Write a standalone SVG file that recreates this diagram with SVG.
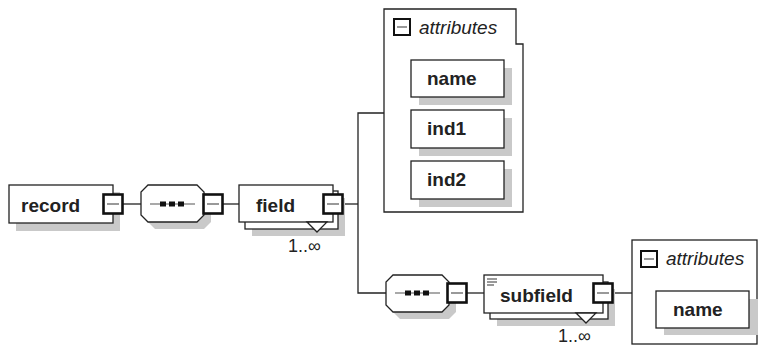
<svg xmlns="http://www.w3.org/2000/svg" width="758" height="347" viewBox="0 0 758 347">
<style>
.bg{fill:#ffffff}
.box{fill:#ffffff;stroke:#222222;stroke-width:1.3}
.shadow{fill:#c9c9c9;stroke:none}
.btn{fill:#ffffff;stroke:#111111;stroke-width:2.6}
.btnl{stroke:#555555;stroke-width:1.2}
.conn{fill:none;stroke:#222222;stroke-width:1.3}
.lbl{font-family:"Liberation Sans",Arial,sans-serif;font-weight:bold;font-size:19px;fill:#222222}
.attl{font-family:"Liberation Sans",Arial,sans-serif;font-style:italic;font-size:19px;fill:#222222}
.occ{font-family:"Liberation Sans",Arial,sans-serif;font-size:18px;fill:#222222}
.sq{fill:#111111}
.abtn{fill:#ffffff;stroke:#111111;stroke-width:2}
</style>
<rect class="bg" x="0" y="0" width="758" height="347"/>
<g id="connectors">
<line class="conn" x1="123" y1="204" x2="141" y2="204"/>
<line class="conn" x1="222" y1="204" x2="239" y2="204"/>
<line class="conn" x1="342" y1="204" x2="358" y2="204"/>
<polyline class="conn" points="384,113 358,113 358,293 386,293"/>
<line class="conn" x1="467" y1="293" x2="484" y2="293"/>
<line class="conn" x1="612" y1="293" x2="632" y2="293"/>
</g>
<g id="record">
<rect class="shadow" x="16" y="192" width="104" height="39"/>
<rect class="box" x="9" y="185" width="104" height="38"/>
<text class="lbl" x="21" y="212">record</text>
<rect class="btn" x="103.5" y="194.5" width="19" height="19"/>
<line class="btnl" x1="107" y1="204" x2="119" y2="204"/>
</g>
<g id="sequence1">
<polygon class="shadow" points="155,192 204,192 211,199 211,222 204,229 155,229 148,222 148,199"/>
<polygon class="box" points="148,185 197,185 204,192 204,215 197,222 148,222 141,215 141,192"/>
<line class="btnl" x1="150" y1="204" x2="195" y2="204" stroke="#333"/>
<rect class="sq" x="160" y="201.5" width="6" height="5"/>
<rect class="sq" x="169" y="201.5" width="6" height="5"/>
<rect class="sq" x="178" y="201.5" width="6" height="5"/>
<rect class="btn" x="203.5" y="194.5" width="19" height="19"/>
<line class="btnl" x1="207" y1="204" x2="219" y2="204"/>
</g>
<g id="field">
<rect class="shadow" x="252" y="198" width="93" height="38"/>
<rect class="box" x="245" y="191" width="93" height="38"/>
<rect class="box" x="239" y="185" width="94" height="37"/>
<polygon class="box" points="307,222 317,232 327,222"/>
<text class="lbl" x="256" y="212">field</text>
<rect class="btn" x="323.5" y="194.5" width="19" height="19"/>
<line class="btnl" x1="327" y1="204" x2="339" y2="204"/>
<text class="occ" x="288" y="252">1..∞</text>
</g>
<g id="attributes1">
<path class="box" d="M384,9 H516 V44 H523 V212 H384 Z"/>
<rect class="abtn" x="394" y="19" width="16" height="16"/>
<line class="btnl" x1="397" y1="27" x2="407" y2="27"/>
<text class="attl" x="419" y="34">attributes</text>
</g>
<g id="attr-name1">
<rect class="shadow" x="419" y="68" width="93" height="37"/>
<rect class="box" x="411" y="60" width="93" height="37"/>
<text class="lbl" x="427" y="85">name</text>
</g>
<g id="attr-ind1">
<rect class="shadow" x="419" y="118" width="93" height="38"/>
<rect class="box" x="411" y="110" width="93" height="38"/>
<text class="lbl" x="427" y="135">ind1</text>
</g>
<g id="attr-ind2">
<rect class="shadow" x="419" y="169" width="93" height="38"/>
<rect class="box" x="411" y="161" width="93" height="38"/>
<text class="lbl" x="427" y="186">ind2</text>
</g>
<g id="sequence2">
<polygon class="shadow" points="400,282 449,282 456,289 456,312 449,319 400,319 393,312 393,289"/>
<polygon class="box" points="393,275 442,275 449,282 449,305 442,312 393,312 386,305 386,282"/>
<line class="btnl" x1="395" y1="293" x2="440" y2="293" stroke="#333"/>
<rect class="sq" x="405" y="290.5" width="6" height="5"/>
<rect class="sq" x="414" y="290.5" width="6" height="5"/>
<rect class="sq" x="423" y="290.5" width="6" height="5"/>
<rect class="btn" x="447.5" y="283.5" width="19" height="19"/>
<line class="btnl" x1="451" y1="293" x2="463" y2="293"/>
</g>
<g id="subfield">
<rect class="shadow" x="497" y="289" width="118" height="37"/>
<rect class="box" x="490" y="282" width="118" height="37"/>
<rect class="box" x="484" y="275" width="119" height="38"/>
<polygon class="box" points="576,313 586,323 596,313"/>
<line class="btnl" x1="487" y1="279" x2="497" y2="279"/>
<line class="btnl" x1="487" y1="282" x2="497" y2="282"/>
<line class="btnl" x1="487" y1="285" x2="494" y2="285"/>
<text class="lbl" x="500" y="302">subfield</text>
<rect class="btn" x="593.5" y="283.5" width="19" height="19"/>
<line class="btnl" x1="597" y1="293" x2="609" y2="293"/>
<text class="occ" x="558" y="342">1..∞</text>
</g>
<g id="attributes2">
<rect class="box" x="632" y="240" width="125" height="104"/>
<rect class="abtn" x="641" y="251" width="16" height="16"/>
<line class="btnl" x1="644" y1="259" x2="654" y2="259"/>
<text class="attl" x="666" y="265">attributes</text>
</g>
<g id="attr-name2">
<rect class="shadow" x="664" y="299" width="94" height="36"/>
<rect class="box" x="656" y="291" width="93" height="37"/>
<text class="lbl" x="673" y="316">name</text>
</g>
</svg>
